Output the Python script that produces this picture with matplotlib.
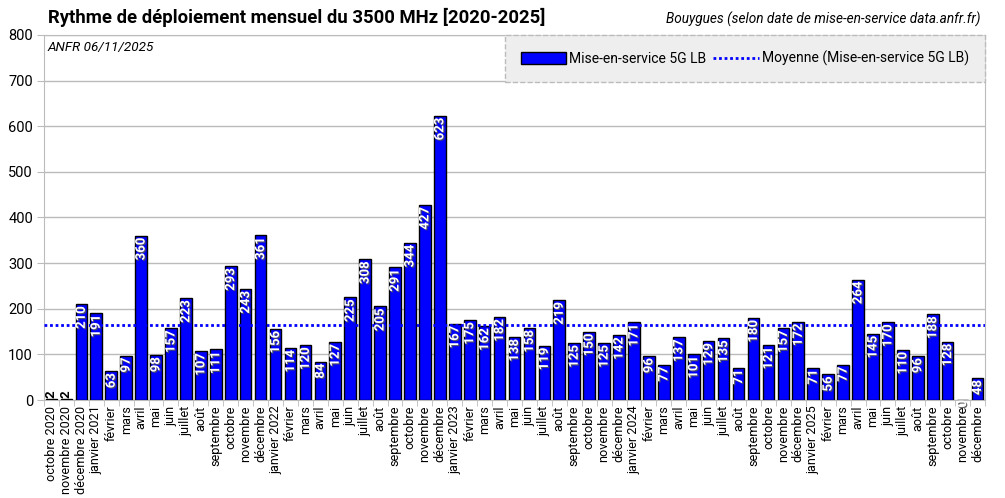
import numpy as np
import matplotlib.pyplot as plt
import matplotlib.patheffects as pe
from matplotlib.patches import Patch
from matplotlib.lines import Line2D

plt.rcParams['font.family'] = ['Roboto', 'DejaVu Sans']

# mois francais, annee affichee sur le premier mois de chaque annee
mois = ["janvier", "février", "mars", "avril", "mai", "juin", "juillet",
        "août", "septembre", "octobre", "novembre", "décembre"]
annees = [2020, 2021, 2022, 2023, 2024, 2025]

labels = ["octobre 2020", "novembre 2020", "décembre 2020"]
for a in annees[1:]:
    labels += [mois[0] + " " + str(a)] + mois[1:]

# mises en service 5G LB (3500 MHz), Bouygues
valeurs = [2, 2, 210,
           191, 63, 97, 360, 98, 157, 223, 107, 111, 293, 243, 361,
           156, 114, 120, 84, 127, 225, 308, 205, 291, 344, 427, 623,
           167, 175, 162, 182, 138, 158, 119, 219, 125, 150, 125, 142,
           171, 96, 77, 137, 101, 129, 135, 71, 180, 121, 157, 172,
           71, 56, 77, 264, 145, 170, 110, 96, 188, 128, 0, 48]

moyenne = np.mean(valeurs)
x = np.arange(len(valeurs))

fig = plt.figure(figsize=(10.05, 4.98), dpi=100)
ax = fig.add_axes([44 / 1005, 1 - 400 / 498, 941 / 1005, 365 / 498])

ax.bar(x, valeurs, width=0.78, color='#0000ff', edgecolor='black', linewidth=1, zorder=3)
ax.axhline(moyenne, color='#0000ff', linestyle=(0, (1, 1)), linewidth=2, zorder=4)

ombre = [pe.withSimplePatchShadow(offset=(0.8, -0.8), shadow_rgbFace='#555555', alpha=0.9)]
for xi, v in zip(x, valeurs):
    if v == 0:
        ax.text(xi, 0, str(v), rotation=90, ha='center', va='top', color='white',
                fontsize=9.5, fontweight='bold', path_effects=ombre, zorder=5)
    elif v < 20:
        ax.text(xi, v + 2, str(v), rotation=90, ha='center', va='bottom', color='black',
                fontsize=9.5, fontweight='bold', zorder=5)
    else:
        ax.text(xi, v - 4, str(v), rotation=90, ha='center', va='top', color='white',
                fontsize=9.5, fontweight='bold', path_effects=ombre, zorder=5)

ax.set_xlim(-0.5, len(valeurs) - 0.5)
ax.set_ylim(0, 800)
ax.set_yticks(range(0, 801, 100))
ax.set_xticks(x)
ax.set_xticklabels(labels, rotation=90, fontsize=9.1)
ax.set_xticks(np.arange(-0.5, len(valeurs), 1), minor=True)
ax.tick_params(axis='x', which='major', length=0, pad=4)
ax.tick_params(axis='x', which='minor', length=4, color='#bbbbbb')
ax.tick_params(axis='y', length=5, color='#bbbbbb', labelsize=10.5, pad=3)
ax.grid(axis='y', color='#bbbbbb', linewidth=1, zorder=0)
for s in ax.spines.values():
    s.set_color('#bbbbbb')

poignees = [Patch(facecolor='#0000ff', edgecolor='black', linewidth=1),
            Line2D([0], [0], color='#0000ff', linestyle=(0, (1, 1)), linewidth=2)]
leg = ax.legend(poignees, ["Mise-en-service 5G LB", "Moyenne (Mise-en-service 5G LB)"],
                loc='upper right', bbox_to_anchor=(1, 1), borderaxespad=0, ncol=2,
                fontsize=10, fancybox=False, framealpha=1, handlelength=3.3,
                handleheight=0.9, handletextpad=0.2, columnspacing=0.5, borderpad=1.15)
leg.get_frame().set_facecolor('#eeeeee')
leg.get_frame().set_edgecolor('#bbbbbb')
leg.get_frame().set_linestyle('--')
leg.set_zorder(6)

fig.text(48 / 1005, 1 - 17 / 498, "Rythme de déploiement mensuel du 3500 MHz [2020-2025]",
         fontsize=13.3, fontweight='bold', va='center', ha='left')
fig.text(980 / 1005, 1 - 19 / 498, "Bouygues (selon date de mise-en-service data.anfr.fr)",
         fontsize=9.8, fontstyle='italic', va='center', ha='right')
ax.text(4 / 941, 1 - 13 / 365, "ANFR 06/11/2025", transform=ax.transAxes,
        fontsize=9.7, fontstyle='italic', va='center', ha='left', zorder=6)

fig.savefig('out.png', dpi=100)
